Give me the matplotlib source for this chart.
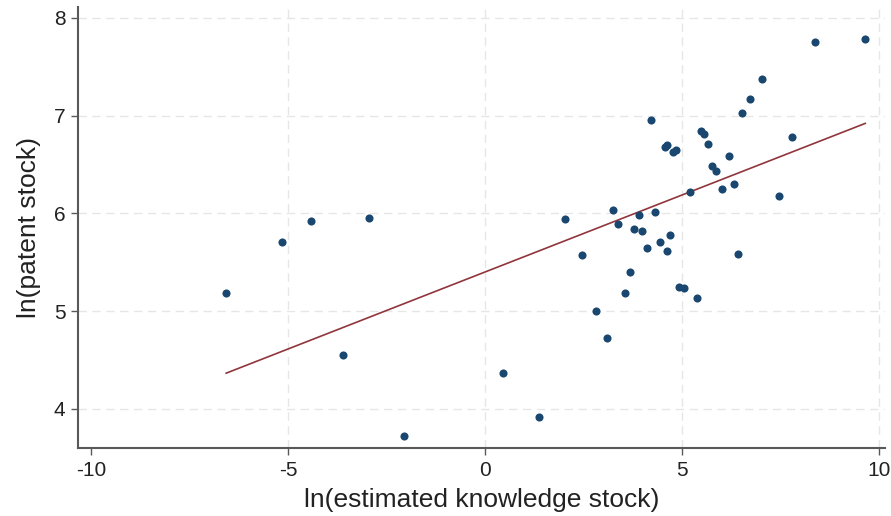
import numpy as np
import matplotlib.pyplot as plt

plt.rcParams['font.family'] = ['Liberation Sans', 'DejaVu Sans']
plt.rcParams['axes.unicode_minus'] = False

# ln(estimated knowledge stock) vs ln(patent stock)
knowledge = [-6.57, -5.15, -4.42, -3.60, -2.94, -2.06, 0.46, 1.37,
             2.04, 2.45, 2.82, 3.10, 3.25, 3.38, 3.55, 3.69, 3.78, 3.90,
             3.99, 4.12, 4.20, 4.32, 4.43, 4.56, 4.61, 4.63, 4.69, 4.76,
             4.84, 4.92, 5.05, 5.19, 5.37, 5.47, 5.56, 5.65, 5.75, 5.87,
             6.02, 6.19, 6.32, 6.41, 6.53, 6.73, 7.03, 7.47, 7.80, 8.37, 9.65]
patent = [5.19, 5.71, 5.92, 4.55, 5.95, 3.72, 4.37, 3.92,
          5.94, 5.57, 5.00, 4.72, 6.03, 5.89, 5.19, 5.40, 5.84, 5.98,
          5.82, 5.65, 6.95, 6.01, 5.71, 6.68, 6.70, 5.61, 5.78, 6.63,
          6.65, 5.25, 5.24, 6.22, 5.13, 6.84, 6.81, 6.71, 6.48, 6.43,
          6.25, 6.59, 6.30, 5.58, 7.03, 7.17, 7.37, 6.18, 6.78, 7.75, 7.78]

# fitted line
fit_intercept = 5.40
fit_slope = 0.1575

x = np.array(knowledge)
y = np.array(patent)

fig = plt.figure(figsize=(8.91, 5.16), dpi=100)
ax = fig.add_axes([78 / 891, 68 / 516, 807 / 891, 441 / 516])

# grid lines (Stata style, dashed light grey)
for gx in [-5, 0, 5, 10]:
    ax.axvline(gx, color='#e6e6e6', lw=1, ls=(0, (6, 4)), zorder=0)
for gy in [4, 5, 6, 7, 8]:
    ax.axhline(gy, color='#e6e6e6', lw=1, ls=(0, (6, 4)), zorder=0)

ax.scatter(x, y, s=34, color='#1a476f', zorder=3, linewidths=0)

# linear fit
xs = np.array([x.min(), x.max()])
ax.plot(xs, fit_intercept + fit_slope * xs, color='#90353b', lw=1.2, zorder=2)

ax.set_xlim(-10.33, 10.15)
ax.set_ylim(3.60, 8.11)
ax.set_xticks([-10, -5, 0, 5, 10])
ax.set_yticks([4, 5, 6, 7, 8])
ax.set_yticklabels(['4', '5', '6', '7', '8'])

for s in ['top', 'right']:
    ax.spines[s].set_visible(False)
for s in ['left', 'bottom']:
    ax.spines[s].set_color('#595959')
    ax.spines[s].set_linewidth(1.5)
ax.tick_params(axis='both', direction='out', length=5, width=1, color='#595959',
               labelsize=15, labelcolor='#222222', pad=4)

ax.set_xlabel('ln(estimated knowledge stock)', fontsize=19, color='#222222', labelpad=6)
ax.set_ylabel('ln(patent stock)', fontsize=19, color='#222222', labelpad=9)

fig.savefig('out.png', dpi=100)
